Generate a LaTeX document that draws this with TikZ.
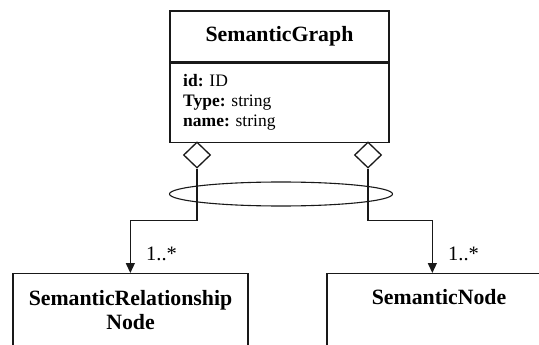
\documentclass[tikz,border=0pt]{standalone}
\usepackage{fontspec}
\setmainfont{Liberation Serif}
\usetikzlibrary{arrows.meta}
\usetikzlibrary{shapes.geometric}
\tikzset{basic/.style={draw=black!90,line width=1.3pt}}
\tikzset{classbox/.style={basic,rectangle,inner sep=0pt}}

\begin{document}
\begin{tikzpicture}[x=1pt,y=-1pt]
    \tikzstyle{aggr}=[basic,diamond,minimum width=27pt,minimum height=26pt,inner sep=0pt]
    \tikzstyle{title}=[font=\fontsize{21.8}{24}\selectfont\bfseries,align=center,inner sep=0pt]
    \tikzstyle{mult}=[font=\fontsize{20.5}{22}\selectfont,inner sep=0pt,anchor=base west]
    \tikzstyle{link}=[draw=black!90,line width=1.3pt,-{Triangle[width=9pt,length=10pt]}]
    \useasboundingbox (0,0) rectangle (539,345);
    \clip (0,0) rectangle (539,345);

    % The graph class with its attributes
    \node[classbox,title,minimum width=219pt,minimum height=51pt] (G) at (279.5,36.5) {SemanticGraph};
    \node[classbox,minimum width=219pt,minimum height=79pt,anchor=north] (G-attr) at (G.south) {};
    \draw[draw=black!90,line width=2.2pt] (G.south west) -- (G.south east);
    \node[anchor=north west,inner sep=0pt,align=left,font=\fontsize{17.5}{20}\selectfont] (G-list) at (183,74.5)
        {\textbf{id:} ID\\ \textbf{Type:} string\\ \textbf{name:} string};

    % Aggregation ends and the ellipse round both links
    \node[aggr] (D-rel) at (197,155) {};
    \node[aggr] (D-node) at (368,155) {};
    \node[basic,ellipse,line width=1.1pt,minimum width=223pt,minimum height=24pt,inner sep=0pt] (ring) at (281,194) {};

    % The two part classes
    \node[classbox,minimum width=235pt,minimum height=110pt,anchor=north] (R) at (130.5,273) {};
    \node[title,anchor=north] (R-name) at (130.5,290.5) {SemanticRelationship\\Node};
    \node[classbox,minimum width=224pt,minimum height=110pt,anchor=north] (N) at (439,273) {};
    \node[title,anchor=north] (N-name) at (439,289.5) {SemanticNode};

    % Links from the graph to its parts
    \draw[link] (D-rel.south) -- ++(0,52) -| ([xshift=118pt]R.north west);
    \draw[link] (D-node.south) -- ++(0,52) -| ([xshift=106pt]N.north west);
    \node[mult] (m-rel) at (146,260) {1..*};
    \node[mult] (m-node) at (448,260) {1..*};
\end{tikzpicture}
\end{document}
